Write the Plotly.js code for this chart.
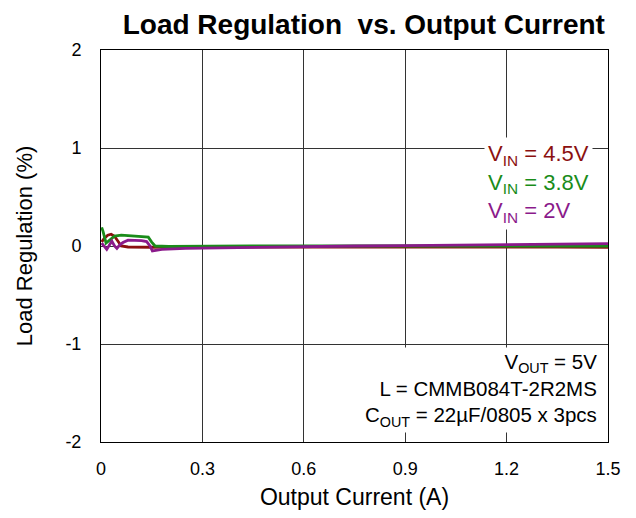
<!DOCTYPE html>
<html><head><meta charset="utf-8">
<script src="https://cdn.plot.ly/plotly-3.0.1.min.js"></script>
<style>html,body{margin:0;padding:0;background:#fff;}#chart{width:636px;height:518px;}</style>
</head><body><div id="chart"></div>
<script>
const xTicks = [0, 0.3, 0.6, 0.9, 1.2, 1.5];
const xTickText = ["0", "0.3", "0.6", "0.9", "1.2", "1.5"];
const yTicks = [-2, -1, 0, 1, 2];
const yTickText = ["-2", "-1", "0", "1", "2"];

const vin45X = [0.002, 0.01, 0.02, 0.03, 0.04, 0.05, 0.06, 0.08, 0.1, 0.12, 0.15, 0.2, 0.3, 0.45, 0.6, 0.75, 0.9, 1.05, 1.2, 1.35, 1.5];
const vin45Y = [0.04, 0.08, 0.11, 0.12, 0.1, 0.05, 0.0, -0.01, -0.013, -0.013, -0.013, -0.01, -0.01, -0.005, -0.005, -0.008, -0.006, -0.01, -0.01, -0.012, -0.013];

const vin38X = [0.002, 0.006, 0.015, 0.025, 0.04, 0.06, 0.08, 0.1, 0.12, 0.14, 0.15, 0.16, 0.2, 0.3, 0.45, 0.6, 0.75, 0.9, 1.05, 1.2, 1.35, 1.5];
const vin38Y = [0.19, 0.15, 0.03, 0.06, 0.1, 0.11, 0.105, 0.1, 0.095, 0.09, 0.04, 0.0, -0.005, 0.0, 0.0, 0.0, 0.0, 0.002, 0.003, 0.003, 0.002, 0.0];

const vin2X = [0.002, 0.008, 0.017, 0.025, 0.032, 0.04, 0.047, 0.055, 0.065, 0.08, 0.1, 0.12, 0.135, 0.145, 0.152, 0.18, 0.25, 0.35, 0.45, 0.6, 0.75, 0.9, 1.05, 1.2, 1.35, 1.5];
const vin2Y = [0.03, 0.0, -0.035, 0.01, 0.05, 0.0, -0.025, 0.01, 0.035, 0.06, 0.06, 0.055, 0.045, 0.0, -0.05, -0.035, -0.025, -0.02, -0.01, -0.003, 0.0, 0.003, 0.01, 0.015, 0.02, 0.025];

const seriesNames = ["V<sub>IN</sub> = 4.5V", "V<sub>IN</sub> = 3.8V", "V<sub>IN</sub> = 2V"];
const seriesColors = ["#8b1010", "#1a8c1a", "#8b1a8b"];

const traces = [
  {x: vin45X, y: vin45Y, name: seriesNames[0], mode: "lines", line: {color: seriesColors[0], width: 2.8}},
  {x: vin38X, y: vin38Y, name: seriesNames[1], mode: "lines", line: {color: seriesColors[1], width: 2.8}},
  {x: vin2X, y: vin2Y, name: seriesNames[2], mode: "lines", line: {color: seriesColors[2], width: 2.8}}
];

const font = "Liberation Sans, Arial, sans-serif";
const layout = {
  width: 636, height: 518,
  margin: {l: 101, r: 28, t: 50, b: 76},
  paper_bgcolor: "#fff", plot_bgcolor: "#fff",
  showlegend: false,
  font: {family: font, size: 18, color: "#000"},
  title: {text: "<b>Load Regulation  vs. Output Current</b>", font: {family: font, size: 28, color: "#000"}, x: 0.572, xanchor: "center", y: 0.954, yanchor: "middle"},
  xaxis: {
    range: [0, 1.5], tickvals: xTicks, ticktext: xTickText,
    showgrid: true, gridcolor: "#333", gridwidth: 1,
    showline: true, linecolor: "#000", linewidth: 1, mirror: true,
    ticks: "", zeroline: false, fixedrange: true,
    tickfont: {size: 18}, ticklabelstandoff: 10,
    title: {text: "Output Current (A)", font: {size: 23}, standoff: 11}
  },
  yaxis: {
    range: [-2, 2], tickvals: yTicks, ticktext: yTickText,
    showgrid: true, gridcolor: "#333", gridwidth: 1,
    showline: true, linecolor: "#000", linewidth: 1, mirror: true,
    ticks: "", zeroline: false, fixedrange: true,
    tickfont: {size: 18}, ticklabelstandoff: 15,
    title: {text: "Load Regulation (%)", font: {size: 22}, standoff: 26}
  },
  annotations: [
    {xref: "paper", yref: "paper", x: 0.755, y: 0.66, xanchor: "left", yanchor: "middle", showarrow: false, align: "left",
     text: seriesNames.map((n, i) => '<span style="color:' + seriesColors[i] + '">' + n + '</span>').join("<br>"),
     font: {size: 22}, bgcolor: "#fff", borderpad: 3},
    {xref: "paper", yref: "paper", x: 0.984, y: 0.133, xanchor: "right", yanchor: "middle", showarrow: false, align: "right",
     text: "V<sub>OUT</sub> = 5V<br>L = CMMB084T-2R2MS<br>C<sub>OUT</sub> = 22µF/0805 x 3pcs",
     font: {size: 20.5}, bgcolor: "#fff", borderpad: 2}
  ]
};
Plotly.newPlot("chart", traces, layout, {displayModeBar: false, staticPlot: true});
</script></body></html>
